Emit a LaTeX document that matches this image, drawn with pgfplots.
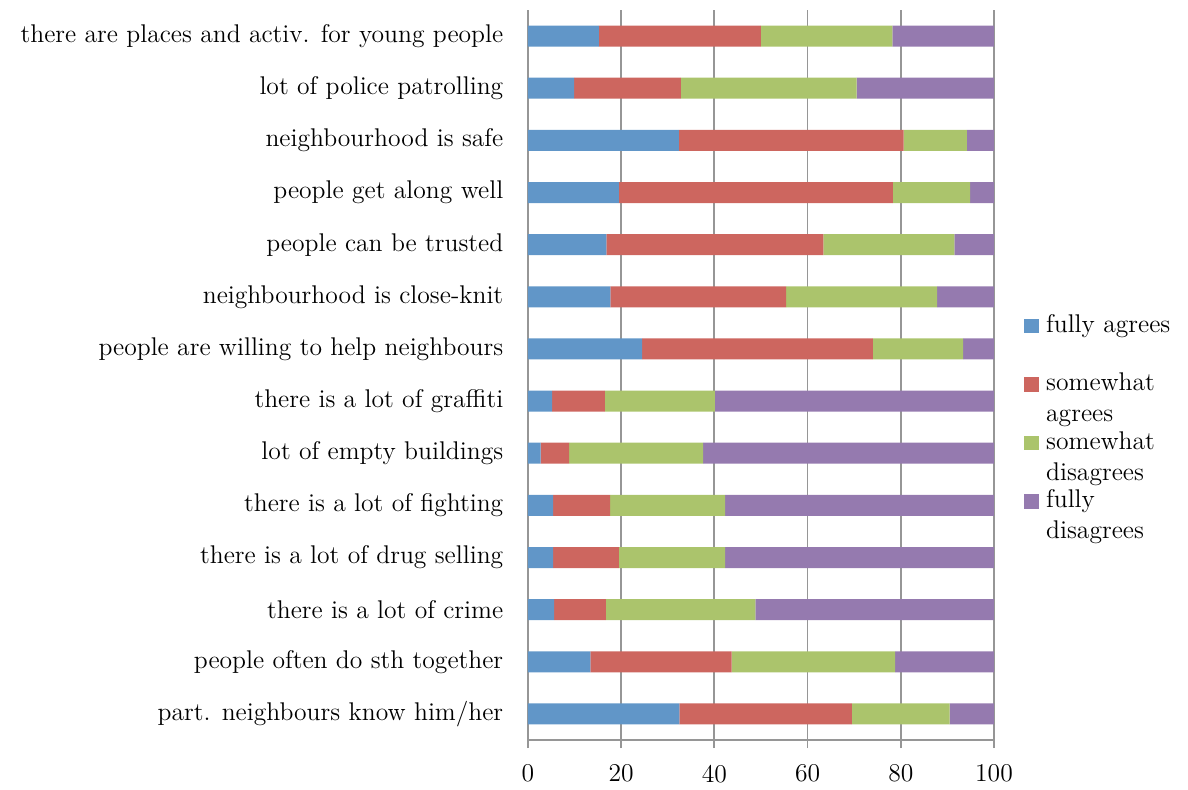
\documentclass[border=0pt]{standalone}
\usepackage{pgfplots}
\pgfplotsset{compat=1.18}
\definecolor{cA}{RGB}{97,150,200}
\definecolor{cB}{RGB}{205,102,95}
\definecolor{cC}{RGB}{171,196,108}
\definecolor{cD}{RGB}{149,122,175}
\definecolor{gridgray}{RGB}{150,150,150}
\newcommand{\twol}[2]{\begin{tabular}[t]{@{}l@{}}#1\\#2\end{tabular}}
\begin{document}
\fontsize{12.5}{15}\selectfont
\begin{tikzpicture}
\path[use as bounding box] (-264pt,-24.5pt) rectangle (330pt,370pt);
\begin{axis}[
  at={(0,0)}, anchor=south west,
  scale only axis,
  width=233pt, height=365pt,
  xbar stacked,
  bar width=10.5pt,
  xmin=0, xmax=100,
  ymin=0.5, ymax=14.5,
  xtick={0,20,...,100},
  ytick={1,...,14},
  yticklabels={part. neighbours know him/her, people often do sth together, there is a lot of crime, there is a lot of drug selling, there is a lot of fighting, lot of empty buildings, there is a lot of graffiti, people are willing to help neighbours, neighbourhood is close-knit, people can be trusted, people get along well, neighbourhood is safe, lot of police patrolling, there are places and activ. for young people},
  minor ytick={0.5,1.5,...,14.5},
  axis lines*=left,
  axis line style={gridgray, line width=0.9pt, -},
  xmajorgrids,
  major grid style={gridgray, line width=0.9pt},
  major tick length=4pt,
  minor tick length=5pt,
  tick align=outside,
  tick style={gridgray, line width=0.9pt},
  ytick style={draw=none},
  minor tick style={gridgray, line width=0.9pt},
  yticklabel style={font=\fontsize{12.8}{15}\selectfont, xshift=-4pt},
  xticklabel style={font=\fontsize{12.8}{15}\selectfont, yshift=-4pt},
  /pgf/number format/assume math mode=true,
  legend style={draw=none, fill=none, at={(1,0.597)}, anchor=north west, xshift=12pt,
    font=\fontsize{12.8}{15.5}\selectfont, row sep=14.5pt,
    nodes={inner sep=1pt, anchor=base west},
    /tikz/every odd column/.append style={column sep=2.5pt}},
  legend cell align=left,
  legend image code/.code={\fill[#1] (0cm,-0.02cm) rectangle (0.26cm,0.24cm);},
]
\addplot[fill=cA, draw=none] coordinates {(32.5,1) (13.4,2) (5.6,3) (5.4,4) (5.4,5) (2.7,6) (5.2,7) (24.5,8) (17.7,9) (16.8,10) (19.5,11) (32.4,12) (9.9,13) (15.2,14)};
\addplot[fill=cB, draw=none] coordinates {(37.0,1) (30.3,2) (11.1,3) (14.1,4) (12.2,5) (6.1,6) (11.3,7) (49.5,8) (37.7,9) (46.6,10) (58.8,11) (48.2,12) (22.9,13) (34.8,14)};
\addplot[fill=cC, draw=none] coordinates {(21.0,1) (35.1,2) (32.1,3) (22.8,4) (24.7,5) (28.8,6) (23.6,7) (19.4,8) (32.4,9) (28.1,10) (16.6,11) (13.6,12) (37.7,13) (28.2,14)};
\addplot[fill=cD, draw=none] coordinates {(9.5,1) (21.2,2) (51.2,3) (57.7,4) (57.7,5) (62.4,6) (59.9,7) (6.6,8) (12.2,9) (8.5,10) (5.1,11) (5.8,12) (29.5,13) (21.8,14)};
\legend{\twol{fully agrees}{\mbox{}}, \twol{somewhat}{agrees}, \twol{somewhat}{disagrees}, \twol{fully}{disagrees}}
\end{axis}
\end{tikzpicture}
\end{document}
